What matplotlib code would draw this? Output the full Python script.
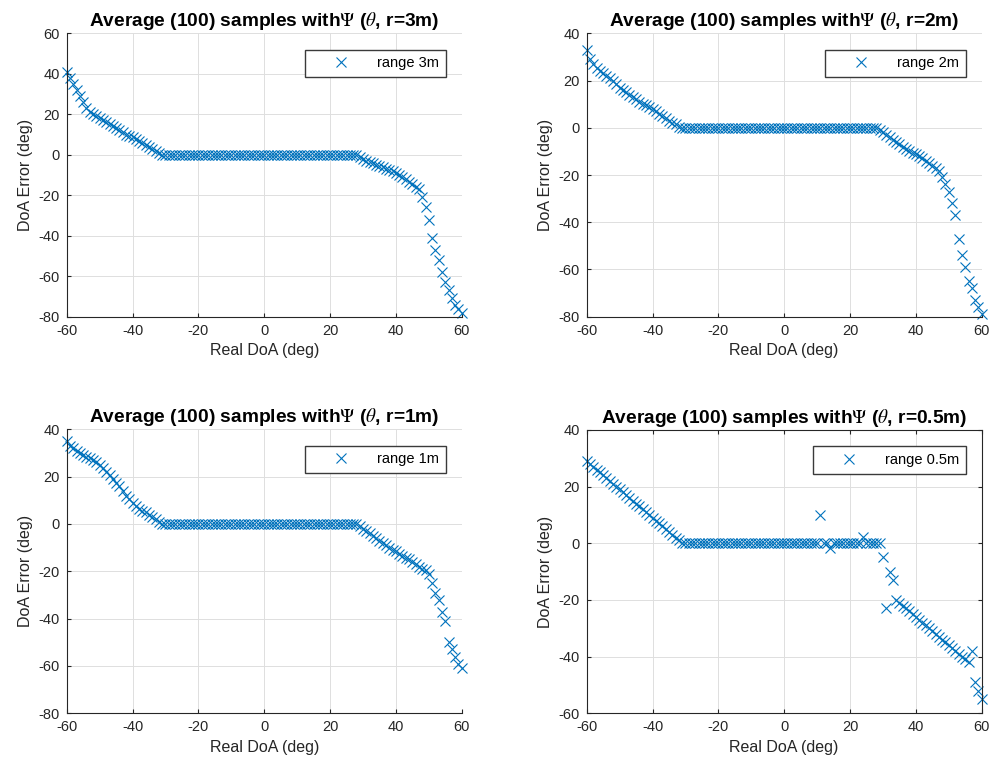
import numpy as np
import matplotlib
matplotlib.use("Agg")
import matplotlib.pyplot as plt

plt.rcParams['font.family'] = ['Liberation Sans', 'DejaVu Sans']
plt.rcParams['mathtext.fontset'] = 'stix'
plt.rcParams['axes.unicode_minus'] = False

# Real DoA grid (deg), 1-degree steps
real_doa = np.arange(-60, 61)

err_3m = [
    41, 38, 35, 32, 29, 26, 23, 21, 20, 19,
    18, 17, 16, 15, 14, 13, 12, 11, 10, 9.5,
    9, 8, 7, 6, 5, 4, 3, 2, 1, 0,
    0, 0, 0, 0, 0, 0, 0, 0, 0, 0,
    0, 0, 0, 0, 0, 0, 0, 0, 0, 0,
    0, 0, 0, 0, 0, 0, 0, 0, 0, 0,
    0, 0, 0, 0, 0, 0, 0, 0, 0, 0,
    0, 0, 0, 0, 0, 0, 0, 0, 0, 0,
    0, 0, 0, 0, 0, 0, 0, 0, 0,
    -1, -2, -3, -3.5, -4, -5, -5.5, -6, -7, -7.5,
    -8, -9, -10, -11, -12, -13.5, -14.5, -16, -17,
    -21, -26, -32, -41, -47, -52, -58, -63, -67, -71,
    -74, -76, -78,
]

err_2m = [
    33, 29, 27, 25.5, 24, 23, 22, 21, 20, 18.5,
    17, 16, 15, 14, 13, 12, 11, 10, 9.5, 9,
    8, 7, 6, 5, 4, 3, 2, 1.5, 0.5, 0,
    0, 0, 0, 0, 0, 0, 0, 0, 0, 0,
    0, 0, 0, 0, 0, 0, 0, 0, 0, 0,
    0, 0, 0, 0, 0, 0, 0, 0, 0, 0,
    0, 0, 0, 0, 0, 0, 0, 0, 0, 0,
    0, 0, 0, 0, 0, 0, 0, 0, 0, 0,
    0, 0, 0, 0, 0, 0, 0, 0, 0,
    -1, -2, -3, -4, -5, -6, -7, -8, -9, -10,
    -10.5, -11, -12, -13, -14, -15, -16, -17, -18.5,
    -21, -24, -27, -32, -37, -47, -54, -59, -65, -68,
    -73, -76, -79,
]

err_1m = [
    35, 33, 32, 31, 30, 29, 28.5, 28, 27, 26,
    25, 23.5, 22, 20.5, 19, 17.5, 16, 14, 12, 10.5,
    9, 7.5, 6.5, 5.5, 5, 4, 3, 2, 1, 0,
    0, 0, 0, 0, 0, 0, 0, 0, 0, 0,
    0, 0, 0, 0, 0, 0, 0, 0, 0, 0,
    0, 0, 0, 0, 0, 0, 0, 0, 0, 0,
    0, 0, 0, 0, 0, 0, 0, 0, 0, 0,
    0, 0, 0, 0, 0, 0, 0, 0, 0, 0,
    0, 0, 0, 0, 0, 0, 0, 0, 0,
    -1, -2, -3, -4, -5, -6, -7, -8, -9, -10,
    -11, -11.5, -12.5, -13.5, -14.5, -15, -16, -17, -18, -19,
    -19.5,
    -21, -25, -29, -32, -37, -41, -50, -53, -56, -59,
    -61,
]

err_05m = [
    29, 28, 27, 26, 25, 24, 23, 22, 21, 20,
    19, 18, 17, 16, 15, 14, 13, 12, 11, 10,
    9, 8, 7, 6, 5, 4, 3, 2, 1, 0,
    0, 0, 0, 0, 0, 0, 0, 0, 0, 0,
    0, 0, 0, 0, 0, 0, 0, 0, 0, 0,
    0, 0, 0, 0, 0, 0, 0, 0, 0, 0,
    0, 0, 0, 0, 0, 0, 0, 0, 0, 0,
    0, 10, 0, 0, -1.5, 0, 0, 0, 0, 0,
    0, 0, 0, 0, 2.3, 0, 0, 0, 0,
    0,
    -5, -23, -10, -13,
    -20, -21, -22, -23, -24, -25, -26, -27, -28, -29,
    -30, -31, -32, -33, -34, -35, -36, -37, -38, -39,
    -40, -41, -42,
    -38, -49, -52, -55,
]

series = [err_3m, err_2m, err_1m, err_05m]
ranges = ['3m', '2m', '1m', '0.5m']
titles = [r'Average (100) samples with$\Psi$ ($\theta$, r=%s)' % r for r in ranges]
legend_labels = ['range %s' % r for r in ranges]
ylims = [(-80, 60), (-80, 40), (-80, 40), (-60, 40)]

positions = [
    [0.0672, 0.5903, 0.3978, 0.3666],
    [0.5908, 0.5903, 0.3978, 0.3666],
    [0.0672, 0.0772, 0.3978, 0.3674],
    [0.5908, 0.0772, 0.3978, 0.3666],
]

blue = '#0072BD'
dark = '#262626'

fig = plt.figure(figsize=(9.93, 7.73), dpi=100)

for i in range(4):
    ax = fig.add_axes(positions[i])
    ax.plot(real_doa, series[i], linestyle='none', marker='x', color=blue,
            markersize=7, markeredgewidth=0.8, label=legend_labels[i], clip_on=False)
    ax.set_xlim(-60, 60)
    ax.set_ylim(*ylims[i])
    ax.set_xticks(np.arange(-60, 61, 20))
    ax.set_yticks(np.arange(ylims[i][0], ylims[i][1] + 1, 20))
    ax.grid(True, color='#dedede', linewidth=0.7)
    ax.set_axisbelow(True)
    box_on = (i == 3)
    for side in ['left', 'bottom']:
        ax.spines[side].set_color(dark)
        ax.spines[side].set_linewidth(0.8)
    for side in ['top', 'right']:
        ax.spines[side].set_visible(box_on)
        ax.spines[side].set_color(dark)
        ax.spines[side].set_linewidth(0.8)
    ax.tick_params(direction='in', length=3, width=0.8, colors=dark,
                   labelsize=10.5, top=box_on, right=box_on, pad=5)
    ax.set_title(titles[i], fontsize=13.8, fontweight='bold', pad=5, color='black')
    ax.set_xlabel('Real DoA (deg)', fontsize=11.5, color=dark, labelpad=4)
    ax.set_ylabel('DoA Error (deg)', fontsize=11.5, color=dark, labelpad=4)
    leg = ax.legend(loc='upper right', bbox_to_anchor=(0.96, 0.942), numpoints=1,
                    handlelength=4, handletextpad=0.5, borderpad=0.45,
                    fontsize=10.5, fancybox=False, framealpha=1, borderaxespad=0)
    leg.get_frame().set_edgecolor('#3a3a3a')
    leg.get_frame().set_linewidth(1.0)

fig.savefig('out.png', dpi=100)
